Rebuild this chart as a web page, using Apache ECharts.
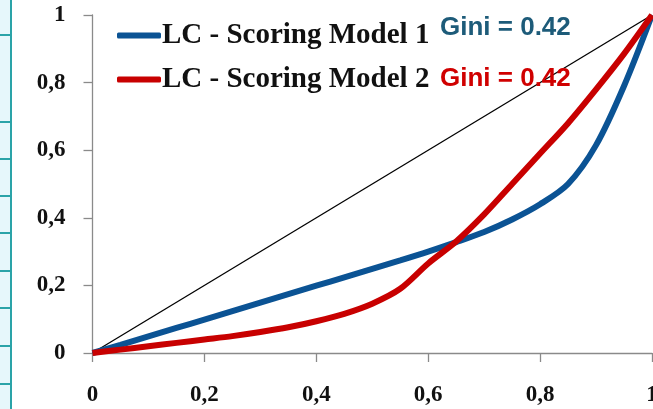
<!DOCTYPE html>
<html><head><meta charset="utf-8">
<script src="https://cdn.jsdelivr.net/npm/echarts@6/dist/echarts.min.js"></script>
<style>html,body{margin:0;padding:0;background:#fff}#c{width:653px;height:409px}</style>
</head><body><div id="c"></div>
<script>
var xTicks = [0, 0.2, 0.4, 0.6, 0.8, 1];
var model1X = [0, 0.05, 0.1, 0.15, 0.2, 0.25, 0.3, 0.35, 0.4, 0.45, 0.5, 0.55, 0.6, 0.65, 0.7, 0.75, 0.8, 0.85, 0.9, 0.95, 1];
var model1Y = [0, 0.024, 0.049, 0.074, 0.099, 0.124, 0.149, 0.174, 0.199, 0.224, 0.249, 0.274, 0.3, 0.328, 0.358, 0.395, 0.44, 0.5, 0.615, 0.79, 1];
var model2X = [0, 0.05, 0.1, 0.15, 0.2, 0.25, 0.3, 0.35, 0.4, 0.45, 0.5, 0.55, 0.6, 0.65, 0.7, 0.75, 0.8, 0.85, 0.9, 0.95, 1];
var model2Y = [0, 0.01, 0.02, 0.03, 0.04, 0.05, 0.062, 0.076, 0.094, 0.116, 0.146, 0.19, 0.265, 0.33, 0.41, 0.5, 0.59, 0.68, 0.78, 0.885, 1];
var diagX = [0, 1];
var diagY = [0, 1];
var seriesNames = ['LC - Scoring Model 1', 'LC - Scoring Model 2'];
var giniLabels = ['Gini = 0.42', 'Gini = 0.42'];

function pairs(xs, ys){ return xs.map(function(x,i){ return [x, ys[i]]; }); }
function fmt(v){ return String(Math.round(v*10)/10).replace('.', ','); }

var stripLines = [35, 122, 159, 196, 233, 271, 308, 346, 384];
var graphics = [
  {type:'rect', shape:{x:0,y:0,width:11,height:409}, style:{fill:'#e6f7fb'}, z:0},
  {type:'line', shape:{x1:11,y1:0,x2:11,y2:409}, style:{stroke:'#2aa3a8', lineWidth:2}, z:1}
];
stripLines.forEach(function(y){
  graphics.push({type:'line', shape:{x1:0,y1:y,x2:11,y2:y}, style:{stroke:'#2aa3a8', lineWidth:2}, z:1});
});
graphics.push({type:'text', left:440, top:15, style:{text:giniLabels[0], fill:'#1d5b79', font:'bold 26px "Liberation Sans", Arial, sans-serif'}, z:10});
graphics.push({type:'text', left:440, top:66, style:{text:giniLabels[1], fill:'#d00000', font:'bold 26px "Liberation Sans", Arial, sans-serif'}, z:10});

var labelStyle = {color:'#111', fontFamily:'Liberation Serif', fontWeight:'bold', fontSize:23, formatter:fmt};

var chart = echarts.init(document.getElementById('c'));
chart.setOption({
  animation:false,
  backgroundColor:'#fff',
  graphic: graphics,
  grid:{left:92.5, right:1, top:15, bottom:56, containLabel:false, outerBoundsMode:'none'},
  legend:{
    orient:'vertical', left:112, top:16, itemGap:15,
    itemWidth:44, itemHeight:6, icon:'roundRect',
    textStyle:{color:'#111', fontFamily:'Liberation Serif', fontWeight:'bold', fontSize:29, padding:[0,0,0,-4]},
    data: seriesNames
  },
  xAxis:{
    type:'value', min:0, max:1, interval:0.2,
    axisLine:{lineStyle:{color:'#8a8a8a', width:1.3}},
    axisTick:{show:true, length:9, lineStyle:{color:'#8a8a8a', width:1.3}},
    splitLine:{show:false},
    axisLabel:Object.assign({margin:31}, labelStyle)
  },
  yAxis:{
    type:'value', min:0, max:1, interval:0.2,
    axisLine:{show:true, lineStyle:{color:'#8a8a8a', width:1.3}},
    axisTick:{show:true, length:9, lineStyle:{color:'#8a8a8a', width:1.3}},
    splitLine:{show:false},
    axisLabel:Object.assign({margin:27}, labelStyle)
  },
  series:[
    {name:'diag', type:'line', data:pairs(diagX, diagY), symbol:'none', lineStyle:{color:'#000', width:1.3}, z:2, silent:true},
    {name:seriesNames[0], type:'line', data:pairs(model1X, model1Y), smooth:0.3, symbol:'none', color:'#0b5394', lineStyle:{color:'#0b5394', width:6}, z:3},
    {name:seriesNames[1], type:'line', data:pairs(model2X, model2Y), smooth:0.3, symbol:'none', color:'#c80000', lineStyle:{color:'#c80000', width:6}, z:4}
  ]
});
</script></body></html>
